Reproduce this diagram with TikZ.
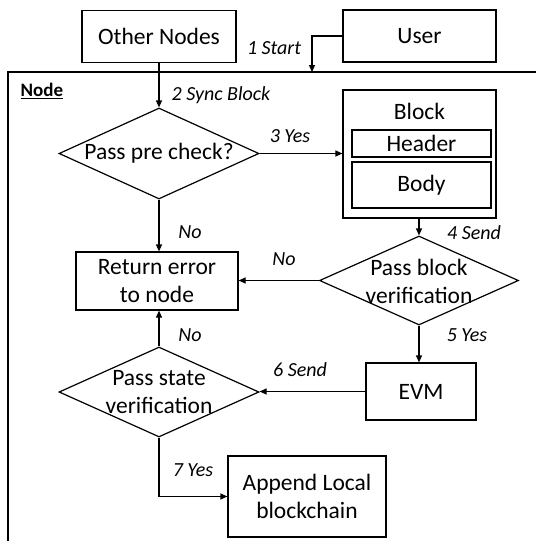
\documentclass[tikz,border=0pt]{standalone}
\usepackage{fontspec}
\setmainfont{Carlito}
\usetikzlibrary{shapes.geometric,arrows.meta}
\begin{document}
\begin{tikzpicture}[x=1pt,y=-1pt,
  line width=1.2pt,
  box/.style={draw,inner sep=0pt,font=\fontsize{23.5}{28}\selectfont,align=center},
  decision/.style={draw,diamond,inner sep=0pt,minimum width=#1,minimum height=90pt},
  dtext/.style={font=\fontsize{23.5}{28}\selectfont,align=center,inner sep=0pt},
  lbl/.style={font=\fontsize{20}{24}\selectfont\itshape,inner sep=0pt},
  flow/.style={-{Triangle[length=7pt,width=6pt]}}
]
\useasboundingbox (0,0) rectangle (536,541);

% outer "Node" frame (runs off the right and bottom edges)
\draw (536,72) -- (8,72) -- (8,541);
\node[font=\fontsize{19}{22}\selectfont\bfseries,inner sep=0pt,anchor=west] (nodelbl) at (20,91) {\underline{Node}};

% external actors
\node[box,minimum width=154pt,minimum height=52pt] (other) at (159,36.5) {Other Nodes};
\node[box,minimum width=153pt,minimum height=52pt] (user) at (419.5,36) {User};

% block with header and body
\node[draw,inner sep=0pt,minimum width=153pt,minimum height=128pt] (block) at (419.5,154) {};
\node[dtext] (blocktxt) at (419.5,111) {Block};
\node[box,minimum width=139pt,minimum height=27pt,line width=1.1pt] (header) at (421.5,143.5) {Header};
\node[box,minimum width=139pt,minimum height=46pt,line width=1.1pt] (body) at (421.5,185) {Body};

% decisions
\node[decision=200pt,minimum height=91pt] (d1) at (159,153.5) {};
\node[dtext] (d1t) at (159,153.5) {Pass pre check?};
\node[decision=199pt,minimum height=89pt] (d2) at (419,280.5) {};
\node[dtext] (d2t) at (419,281) {Pass block\\verification};
\node[decision=200pt] (d3) at (159,392) {};
\node[dtext] (d3t) at (159,392) {Pass state\\verification};

% process boxes
\node[box,minimum width=162pt,minimum height=58pt] (ret) at (157,281) {Return error\\to node};
\node[box,minimum width=110pt,minimum height=57pt] (evm) at (421,391.5) {EVM};
\node[box,minimum width=158pt,minimum height=81pt] (app) at (307,496.5) {Append Local\\blockchain};

\coordinate (entry) at (312,72);

% connectors
\draw[flow] (user.west) -| (entry);
\draw[flow] (other.south) -- (d1.north);
\draw[flow] (d1.east) -- (d1.east -| block.west);
\draw[flow] (d1.south) -- (d1.south |- ret.north);
\draw[flow] (block.south -| d2.north) -- (d2.north);
\draw[flow] (d2.west) -- (d2.west -| ret.east);
\draw[flow] (d2.south) -- (d2.south |- evm.north);
\draw[flow] (evm.west) -- (evm.west -| d3.east);
\draw[flow] (d3.north) -- (d3.north |- ret.south);
\draw[flow] (d3.south) |- (app.west);

% step labels
\node[lbl] (l1) at (274,48) {1 Start};
\node[lbl] (l2) at (221,95) {2 Sync Block};
\node[lbl] (l3) at (290,136) {3 Yes};
\node[lbl] (l4) at (474,233) {4 Send};
\node[lbl] (l5) at (467,335) {5 Yes};
\node[lbl] (l6) at (300,370) {6 Send};
\node[lbl] (l7) at (193,470) {7 Yes};
\node[lbl] (n1) at (190,232) {No};
\node[lbl] (n2) at (284,259) {No};
\node[lbl] (n3) at (190,335) {No};
\end{tikzpicture}
\end{document}
